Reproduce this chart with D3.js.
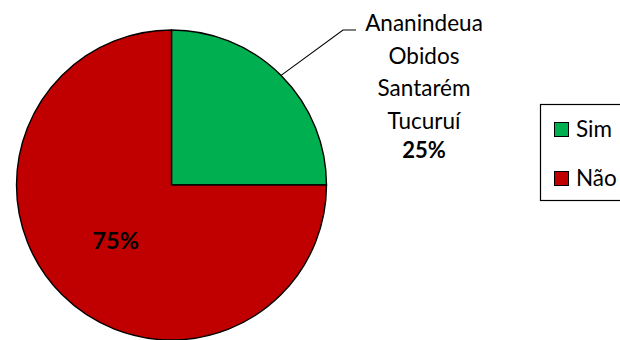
<!DOCTYPE html>
<html>
<head>
<meta charset="utf-8">
<script src="https://cdn.jsdelivr.net/npm/d3@7"></script>
<style>
  html, body { margin: 0; padding: 0; background: #fff; }
  svg { display: block; }
  text { font-family: Lato, "Open Sans", sans-serif; fill: #000; }
</style>
</head>
<body>
<svg id="chart" width="620" height="340"></svg>
<script>
// Chart data
const categories = ["Sim", "Não"];
const values = [25, 75];
const colors = ["#00B050", "#C00000"];
const simPlaces = ["Ananindeua", "Obidos", "Santarém", "Tucuruí"];

const svg = d3.select("#chart");
const cx = 171.5, cy = 185, radius = 155;
const total = d3.sum(values);
const pct = v => Math.round(v / total * 100) + "%";

const pie = d3.pie().sort(null).value(d => d.value);
const slices = pie(categories.map((c, i) => ({ name: c, value: values[i], color: colors[i] })));
const arc = d3.arc().innerRadius(0).outerRadius(radius);

const g = svg.append("g").attr("transform", `translate(${cx},${cy})`);

g.selectAll("path.slice")
  .data(slices)
  .join("path")
  .attr("class", "slice")
  .attr("d", arc)
  .attr("fill", d => d.data.color)
  .attr("stroke", "#000")
  .attr("stroke-width", 1.4)
  .attr("stroke-linejoin", "round");

// Inside label for "Não"
const nao = slices[1];
const [nx, ny] = arc.centroid(nao);
g.append("text")
  .attr("x", nx - 1)
  .attr("y", ny + 9)
  .attr("text-anchor", "middle")
  .attr("font-size", 23.5)
  .attr("font-weight", "bold")
  .text(pct(nao.data.value));

// Outside label for "Sim" with leader line
const sim = slices[0];
const mid = (sim.startAngle + sim.endAngle) / 2;
const edge = [Math.sin(mid) * radius, -Math.cos(mid) * radius];
const elbow = [343 - cx, 30 - cy];
const tail = [356 - cx, 30 - cy];
g.append("polyline")
  .attr("points", [edge, elbow, tail].map(p => p.join(",")).join(" "))
  .attr("fill", "none")
  .attr("stroke", "#000")
  .attr("stroke-width", 1.1);

const labelX = 424;
const lineBase = [31, 63.5, 96, 128.5];
const lbl = svg.append("g");
simPlaces.forEach((t, i) => {
  lbl.append("text")
    .attr("x", labelX)
    .attr("y", lineBase[i])
    .attr("text-anchor", "middle")
    .attr("font-size", 22.5)
    .text(t);
});
lbl.append("text")
  .attr("x", labelX)
  .attr("y", 158)
  .attr("text-anchor", "middle")
  .attr("font-size", 22)
  .attr("font-weight", "bold")
  .text(pct(sim.data.value));

// Legend
const legend = svg.append("g");
legend.append("rect")
  .attr("x", 540.5).attr("y", 104.5)
  .attr("width", 100).attr("height", 96)
  .attr("fill", "#fff")
  .attr("stroke", "#000")
  .attr("stroke-width", 1.2);

const legendY = d3.scalePoint().domain(categories).range([130, 179]);
const items = legend.selectAll("g.item")
  .data(categories.map((c, i) => ({ name: c, color: colors[i] })))
  .join("g")
  .attr("class", "item")
  .attr("transform", d => `translate(554,${legendY(d.name)})`);
items.append("rect")
  .attr("x", 0.5).attr("y", -7.5)
  .attr("width", 14).attr("height", 14)
  .attr("fill", d => d.color)
  .attr("stroke", "#000")
  .attr("stroke-width", 1);
items.append("text")
  .attr("x", 22)
  .attr("y", 7)
  .attr("font-size", 22.5)
  .text(d => d.name);
</script>
</body>
</html>
